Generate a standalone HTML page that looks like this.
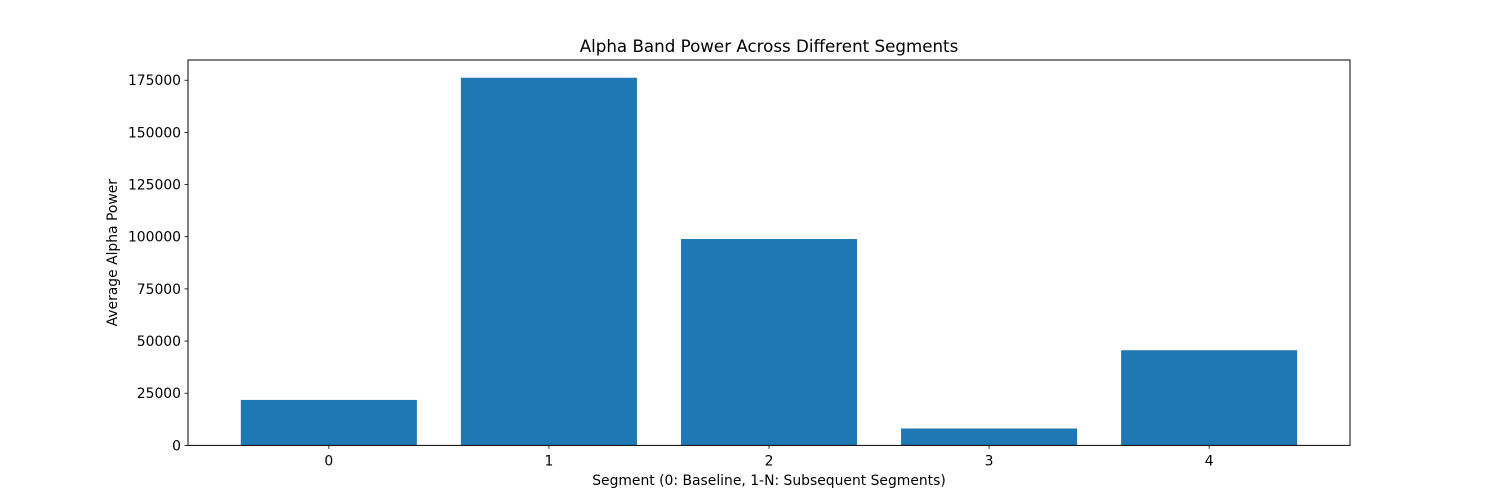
<!DOCTYPE html>
<html><head><meta charset="utf-8"><style>
body{margin:0;background:#fff}
svg{display:block;font-family:"DejaVu Sans","Liberation Sans",sans-serif}
</style></head><body>
<svg id="chart" width="1500" height="500"></svg>
<script>
const categories=[0,1,2,3,4];
const values=[21800,176200,98900,8100,45600];
const yTicks=[0,25000,50000,75000,100000,125000,150000,175000];
const NS="http://www.w3.org/2000/svg";
const svg=document.getElementById('chart');
const L=188,R=1350,T=60,B=445.4;
const xmin=-0.64,xmax=4.64,ymax=184700;
function xs(v){return L+(v-xmin)/(xmax-xmin)*(R-L);}
function ys(v){return B-v/ymax*(B-T);}
function mk(tag,attrs,parent){const e=document.createElementNS(NS,tag);for(const k in attrs)e.setAttribute(k,attrs[k]);(parent||svg).appendChild(e);return e;}
categories.forEach((c,i)=>{
  const x0=xs(c-0.4),x1=xs(c+0.4),y=ys(values[i]);
  const r=mk('rect',{x:x0,y:y,width:x1-x0,height:B-y,fill:'#1f77b4'});
  
  
  const t=mk('line',{x1:xs(c),x2:xs(c),y1:B,y2:B+3.5,stroke:'#000','stroke-width':0.8});
  
  
  const lb=mk('text',{x:xs(c),y:B+20,'text-anchor':'middle','font-size':13.9,fill:'#000'});
  lb.textContent=c;
  
  
});
yTicks.forEach(v=>{
  const y=ys(v);
  const t=mk('line',{x1:L-3.5,x2:L,y1:y,y2:y,stroke:'#000','stroke-width':0.8});
  
  
  const lb=mk('text',{x:L-7,y:y+5,'text-anchor':'end','font-size':13.9,fill:'#000'});
  lb.textContent=v;
  
  
});
const fr=mk('rect',{x:L,y:T,width:R-L,height:B-T,fill:'none',stroke:'#000','stroke-width':1});


const ti=mk('text',{x:(L+R)/2,y:T-8,'text-anchor':'middle','font-size':16.7,fill:'#000'});
ti.textContent='Alpha Band Power Across Different Segments';


const xt=mk('text',{x:(L+R)/2,y:485,'text-anchor':'middle','font-size':13.9,fill:'#000'});
xt.textContent='Segment (0: Baseline, 1-N: Subsequent Segments)';


const yt=mk('text',{x:0,y:0,'text-anchor':'middle','font-size':13.9,fill:'#000',transform:'translate(117,'+((T+B)/2)+') rotate(-90)'});
yt.textContent='Average Alpha Power';


</script>
</body></html>
